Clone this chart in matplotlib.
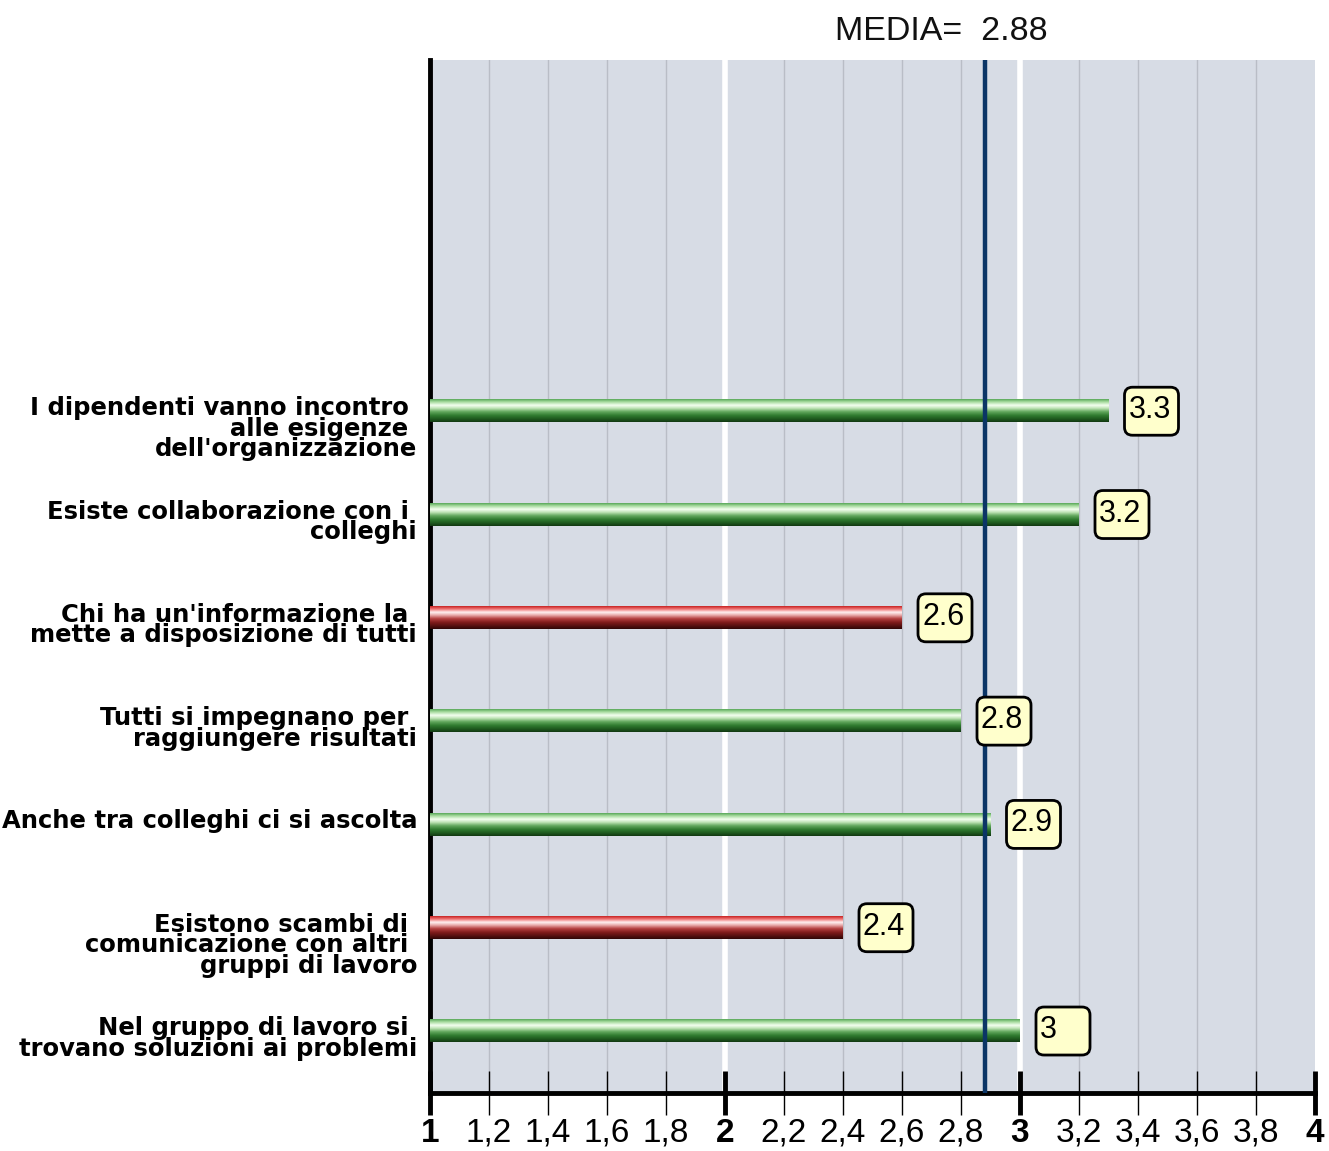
import numpy as np
import matplotlib
matplotlib.use("Agg")
import matplotlib.pyplot as plt
from matplotlib.colors import to_rgb
from matplotlib.patches import FancyBboxPatch
from matplotlib.transforms import ScaledTranslation, offset_copy

# --- data -------------------------------------------------------------
items = [
    "I dipendenti vanno incontro \nalle esigenze \ndell'organizzazione",
    "Esiste collaborazione con i \ncolleghi",
    "Chi ha un'informazione la \nmette a disposizione di tutti",
    "Tutti si impegnano per \nraggiungere risultati",
    "Anche tra colleghi ci si ascolta",
    "Esistono scambi di \ncomunicazione con altri \ngruppi di lavoro",
    "Nel gruppo di lavoro si \ntrovano soluzioni ai problemi",
]
scores = [3.3, 3.2, 2.6, 2.8, 2.9, 2.4, 3.0]
bar_kind = ["green", "green", "red", "green", "green", "red", "green"]
media = 2.88
tick_values = [1, 1.2, 1.4, 1.6, 1.8, 2, 2.2, 2.4, 2.6, 2.8, 3,
               3.2, 3.4, 3.6, 3.8, 4]
tick_labels = ["1", "1,2", "1,4", "1,6", "1,8", "2", "2,2", "2,4", "2,6",
               "2,8", "3", "3,2", "3,4", "3,6", "3,8", "4"]

# --- styling ----------------------------------------------------------
gradients = {
    "green": ["#5aa85a", "#a8dca0", "#f4fff0", "#bfe4b6", "#63a85e",
              "#2f7a2f", "#1f5a1f", "#123812"],
    "red": ["#c82424", "#ee7070", "#fff2f2", "#e8a8a8", "#b44040",
            "#7e1a1a", "#561010", "#300606"],
}
grad_stops = [0.0, 0.12, 0.27, 0.4, 0.55, 0.72, 0.87, 1.0]


def gradient_image(kind, n=64):
    cols = np.array([to_rgb(c) for c in gradients[kind]])
    t = np.linspace(0, 1, n)
    img = np.stack([np.interp(t, grad_stops, cols[:, k]) for k in range(3)],
                   axis=-1)
    return img[:, None, :]


W, H, DPI = 1329, 1151, 100
px = 1 / DPI
fig = plt.figure(figsize=(W / DPI, H / DPI), dpi=DPI)
fig.patch.set_facecolor("white")
ax = fig.add_axes([430 / W, 1 - 1093 / H, (1315 - 430) / W, (1093 - 60) / H])
ax.set_facecolor("#d7dce5")

n = len(items)
ypos = np.arange(n)[::-1]          # first item on top
bar_h = 0.215

# vertical grid
for v in tick_values:
    if float(v).is_integer():
        if 1 < v < 4:
            ax.axvline(v, color="white", lw=4.0, zorder=1)
    else:
        ax.axvline(v, color="#b9bdc6", lw=1.0, zorder=1)

# cylinder-style bars (row 0 of the gradient is the top edge)
for y, val, kind in zip(ypos, scores, bar_kind):
    ax.imshow(gradient_image(kind),
              extent=(1, val, y - bar_h / 2, y + bar_h / 2),
              aspect="auto", interpolation="bilinear", zorder=3,
              origin="upper")

ax.set_xlim(1, 4)
ax.set_ylim(-0.6, 9.4)

# mean line
ax.axvline(media, color="#0b3566", lw=3.2, zorder=4)
fig.text(941 / W, 1 - 31 / H, f"MEDIA=  {media:.2f}", ha="center",
         va="center", fontsize=24.5, family="Liberation Sans", color="#111111")

# value boxes (sizes in inches, anchored to the end of each bar)
for y, val in zip(ypos, scores):
    tr = fig.dpi_scale_trans + ScaledTranslation(val, y, ax.transData)
    box = FancyBboxPatch((16 * px, -24 * px), 54 * px, 48 * px,
                         boxstyle=f"round,pad=0,rounding_size={8 * px}",
                         transform=tr, facecolor="#ffffcc",
                         edgecolor="black", lw=2.0, zorder=6, clip_on=False)
    ax.add_patch(box)
    ax.text(20 * px, 1 * px, f"{val:g}", transform=tr, ha="left",
            va="center", fontsize=22, family="Liberation Sans",
            color="black", zorder=7, clip_on=False)

# category labels, anchored at the top next to each bar
lab_tr = offset_copy(ax.transData, fig=fig, x=-13 * 72 / DPI,
                     y=15 * 72 / DPI, units="points")
for y, lab in zip(ypos, items):
    ax.text(1, y, lab, transform=lab_tr, ha="right", va="top",
            multialignment="right", fontsize=17.5, fontweight="bold",
            family="DejaVu Sans", linespacing=0.82, color="black",
            clip_on=False)

# axes and ticks
for s in ("top", "right"):
    ax.spines[s].set_visible(False)
ax.spines["left"].set_linewidth(3.5)
ax.spines["bottom"].set_linewidth(3.5)
ax.set_yticks([])

major = [v for v in tick_values if float(v).is_integer()]
major_lab = [l for v, l in zip(tick_values, tick_labels) if float(v).is_integer()]
minor = [v for v in tick_values if not float(v).is_integer()]
minor_lab = [l for v, l in zip(tick_values, tick_labels) if not float(v).is_integer()]
ax.set_xticks(major, major_lab)
ax.set_xticks(minor, minor_lab, minor=True)
ax.tick_params(axis="x", which="major", direction="inout", length=32,
               width=3.5, pad=2, labelsize=24)
ax.tick_params(axis="x", which="minor", direction="inout", length=32,
               width=1.0, pad=2, labelsize=24)
for t in ax.get_xticklabels():
    t.set_family("Liberation Sans")
    t.set_fontweight("bold")
for t in ax.get_xticklabels(minor=True):
    t.set_family("Liberation Sans")

fig.savefig("out.png", dpi=DPI, facecolor="white")
